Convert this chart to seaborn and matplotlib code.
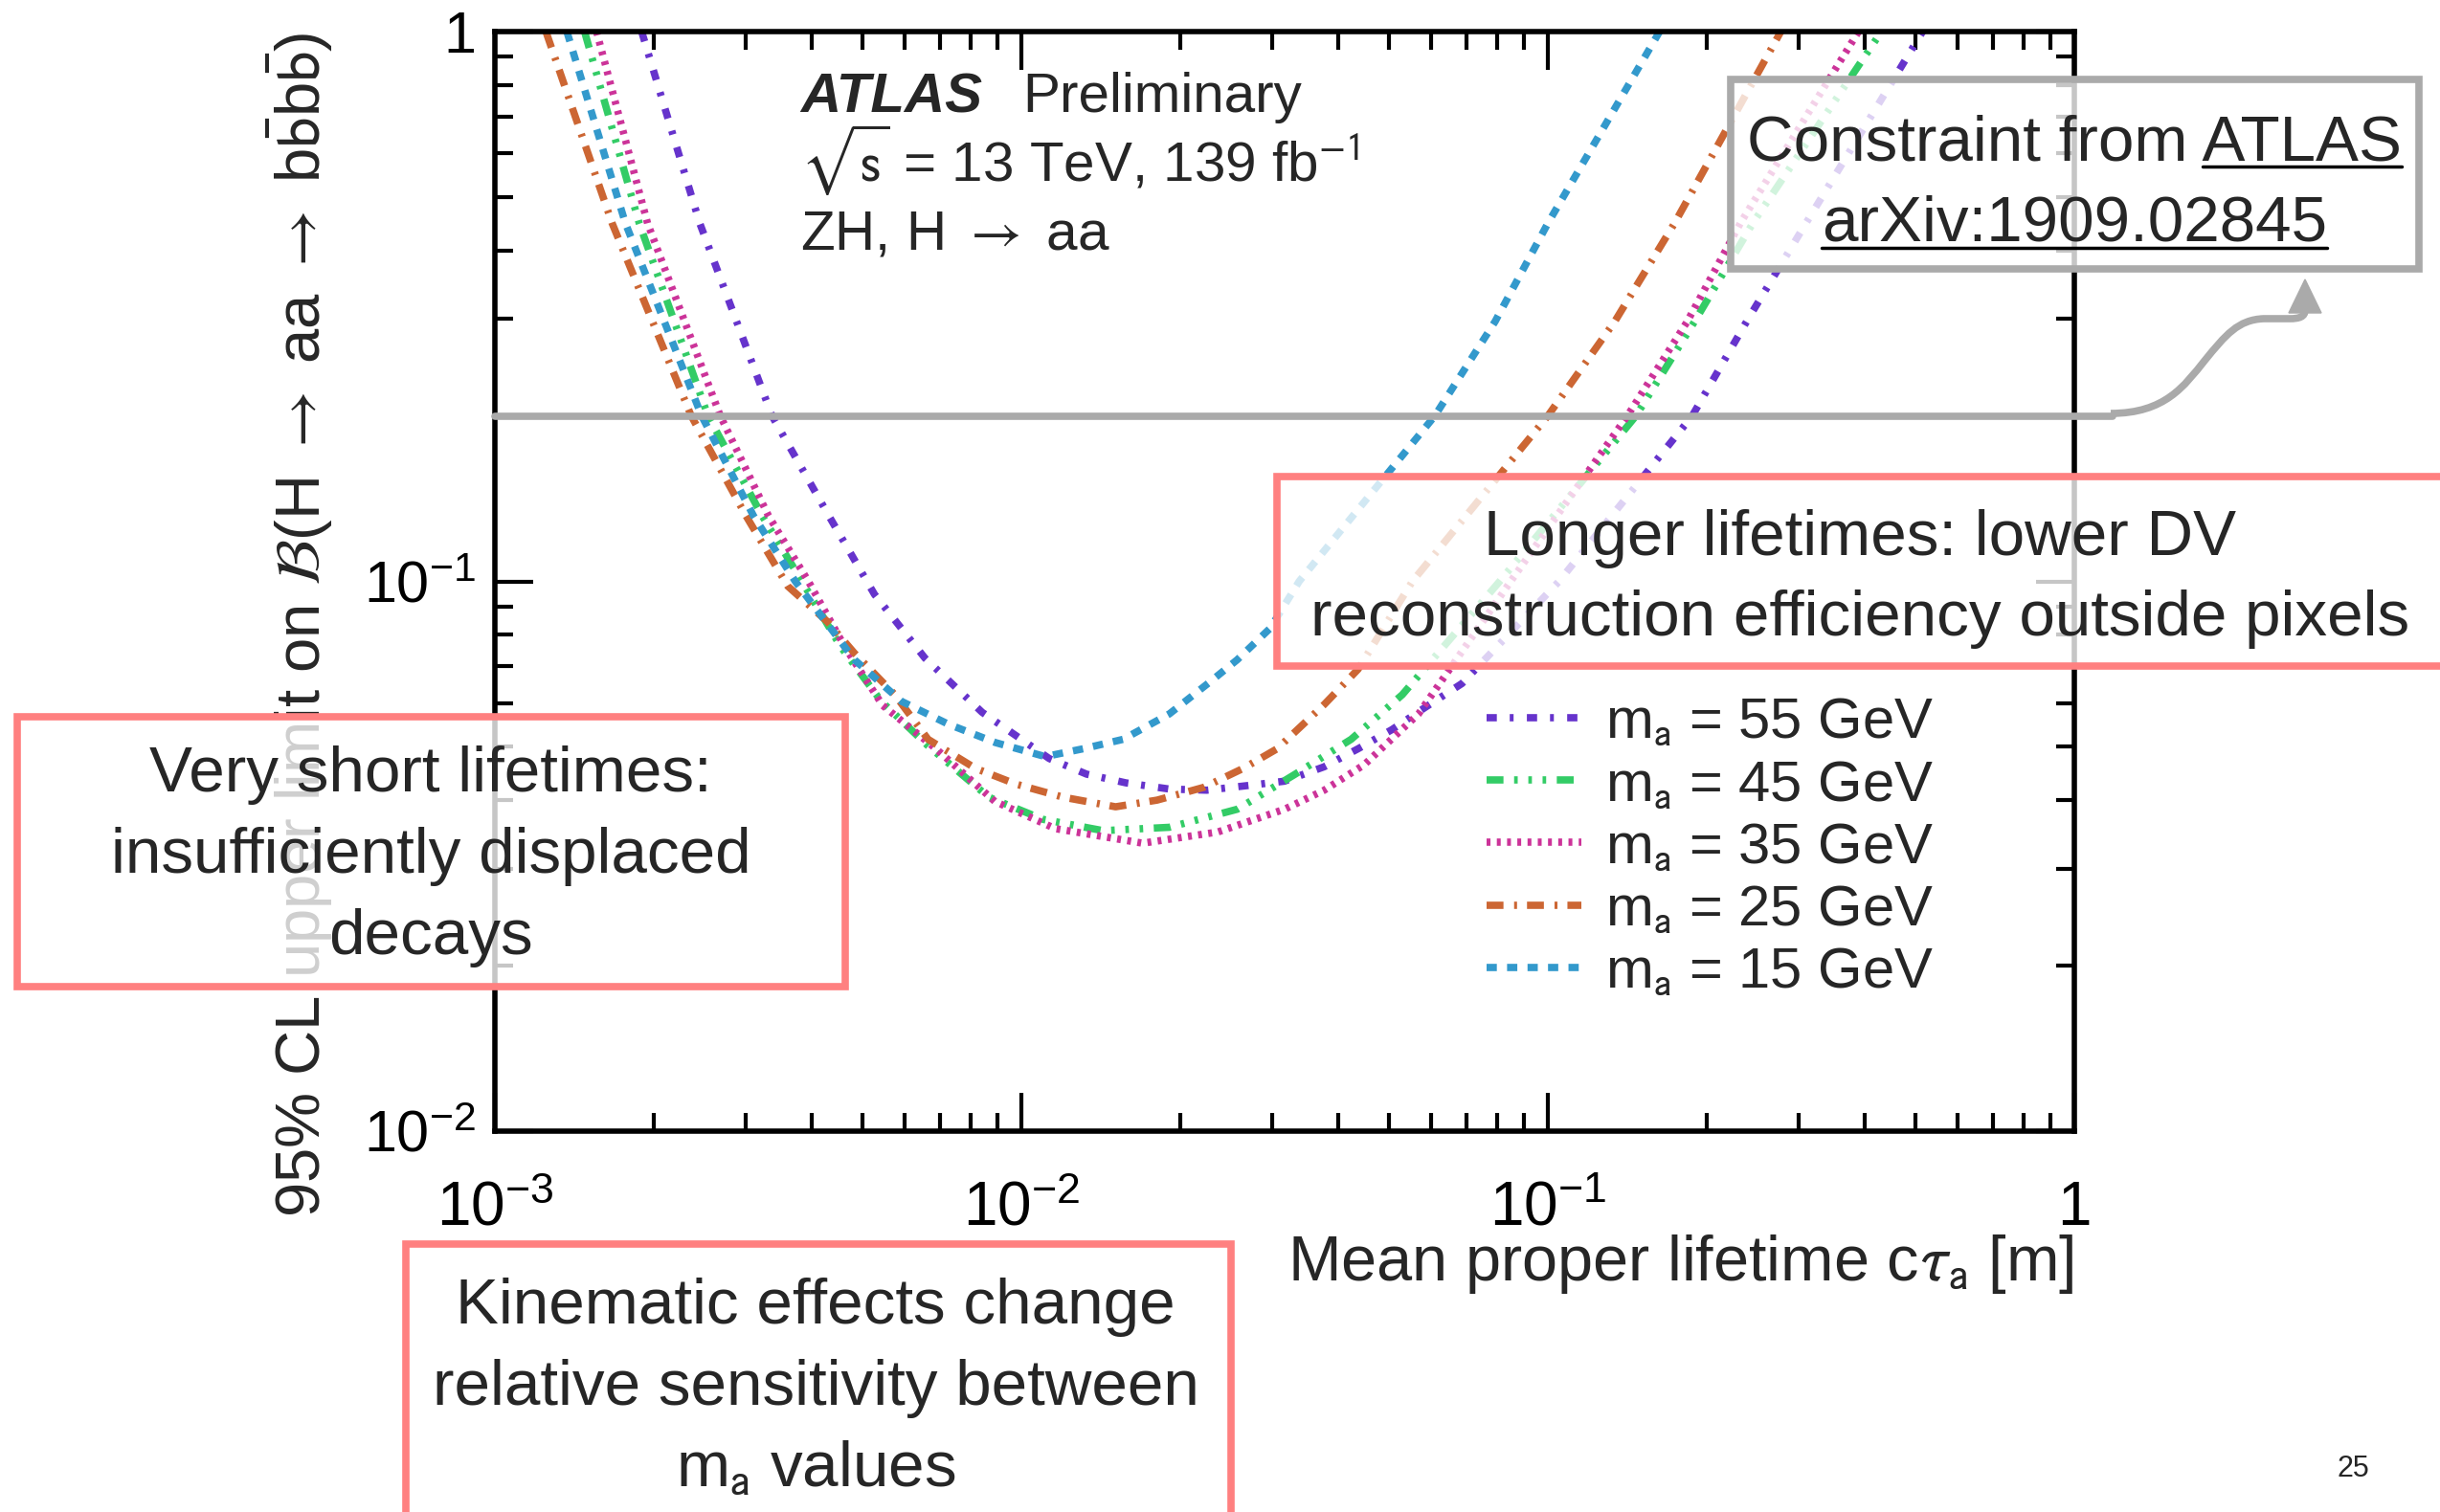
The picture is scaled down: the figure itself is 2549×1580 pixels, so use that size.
import numpy as np
import pandas as pd
import matplotlib
matplotlib.use("Agg")
import matplotlib.pyplot as plt
import seaborn as sns
from matplotlib.lines import Line2D
from matplotlib.patches import Rectangle, PathPatch, Polygon
from matplotlib.path import Path
from matplotlib.ticker import LogLocator, FuncFormatter, NullFormatter

# values (c*tau in m, 95% CL limit on BR)
masses = ["55", "45", "35", "25", "15"]

ctau_55 = [1.90e-3, 2.45e-3, 3.36e-3, 4.31e-3, 5.26e-3, 6.56e-3, 8.42e-3, 1.13e-2,
           1.33e-2, 1.58e-2, 1.91e-2, 2.25e-2, 2.68e-2, 3.16e-2, 3.76e-2, 4.36e-2,
           5.05e-2, 5.85e-2, 6.87e-2, 1.05e-1, 1.88e-1, 2.4e-1, 3.1e-1, 5.15e-1]
lim_55 = [1.0, 0.448, 0.2, 0.1315, 0.0947, 0.0725, 0.0578, 0.0476,
          0.0446, 0.043, 0.0419, 0.0417, 0.0425, 0.0433, 0.046, 0.0496,
          0.0537, 0.059, 0.0652, 0.1, 0.2, 0.3, 0.45, 1.0]

ctau_45 = [1.48e-3, 1.88e-3, 2.54e-3, 3.22e-3, 3.83e-3, 4.54e-3, 5.42e-3, 6.65e-3,
           8.67e-3, 1.1e-2, 1.43e-2, 1.91e-2, 2.57e-2, 3.3e-2, 4.23e-2, 5.29e-2,
           8.1e-2, 1.47e-1, 1.9e-1, 2.45e-1, 4.3e-1]
lim_45 = [1.0, 0.448, 0.2, 0.1315, 0.1, 0.076, 0.0605, 0.0502,
          0.0405, 0.0369, 0.0352, 0.0357, 0.0385, 0.0445, 0.0516, 0.0622,
          0.1, 0.2, 0.297, 0.448, 1.0]

ctau_35 = [1.56e-3, 1.95e-3, 2.68e-3, 3.31e-3, 3.94e-3, 4.62e-3, 5.45e-3, 6.9e-3,
           8.9e-3, 1.16e-2, 1.7e-2, 2.36e-2, 3.16e-2, 3.76e-2, 4.48e-2, 5.68e-2,
           8.5e-2, 1.416e-1, 1.84e-1, 2.32e-1, 3.89e-1]
lim_35 = [1.0, 0.448, 0.2, 0.1315, 0.1, 0.076, 0.0595, 0.0495,
          0.0398, 0.0355, 0.0334, 0.035, 0.0385, 0.0417, 0.0464, 0.0574,
          0.1, 0.2, 0.297, 0.448, 1.0]

ctau_25 = [1.25e-3, 1.67e-3, 2.36e-3, 3.0e-3, 3.6e-3, 4.28e-3, 4.82e-3, 5.75e-3,
           6.65e-3, 8.18e-3, 9.75e-3, 1.2e-2, 1.51e-2, 1.81e-2, 2.22e-2, 2.64e-2,
           3.06e-2, 3.76e-2, 4.36e-2, 5.53e-2, 1.0e-1, 1.34e-1, 1.74e-1, 2.77e-1]
lim_25 = [1.0, 0.448, 0.2, 0.1315, 0.098, 0.0845, 0.074, 0.0622,
          0.0516, 0.0457, 0.0428, 0.0405, 0.0389, 0.04, 0.0422, 0.0457,
          0.0496, 0.0597, 0.0692, 0.1, 0.2, 0.297, 0.448, 1.0]

ctau_15 = [1.37e-3, 1.77e-3, 2.47e-3, 3.1e-3, 3.72e-3, 4.82e-3, 5.92e-3, 7.26e-3,
           8.93e-3, 1.11e-2, 1.31e-2, 1.56e-2, 1.91e-2, 2.28e-2, 2.57e-2, 2.97e-2,
           3.37e-2, 6.1e-2, 7.94e-2, 1.0e-1, 1.63e-1]
lim_15 = [1.0, 0.448, 0.2, 0.1315, 0.1, 0.072, 0.0605, 0.055,
          0.0509, 0.048, 0.0496, 0.0516, 0.0574, 0.0656, 0.072, 0.0822,
          0.1, 0.2, 0.297, 0.448, 1.0]

constraint_limit = 0.2

colors = ["#6633CC", "#33CC66", "#CC3399", "#CC6633", "#3399CC"]
dash_list = [(7.7, 9.7, 2.9, 10), (12.7, 8, 2.7, 8, 2.7, 8, 2.7, 8), (2.9, 4.8),
             (12.7, 8, 2.2, 7.5), (7.7, 7.7)]

sns.set_style("ticks")
plt.rcParams["font.family"] = ["Liberation Sans", "DejaVu Sans"]
plt.rcParams["mathtext.fontset"] = "stixsans"
plt.rcParams["lines.scale_dashes"] = False

W, H = 2549, 1580
fig = plt.figure(figsize=(W / 100, H / 100), dpi=100)


def fx(px):
    return px / W


def fy(py):
    return 1 - py / H


ax = fig.add_axes([fx(517), fy(1182), (2167 - 517) / W, (1182 - 33) / H])

frames = []
for m, xs, ys in zip(masses, [ctau_55, ctau_45, ctau_35, ctau_25, ctau_15],
                     [lim_55, lim_45, lim_35, lim_25, lim_15]):
    frames.append(pd.DataFrame({"ctau": xs, "limit": ys, "mass": m}))
df = pd.concat(frames, ignore_index=True)

palette = dict(zip(masses, colors))
dash_map = dict(zip(masses, dash_list))
line_w = 5.5

sns.lineplot(data=df, x="ctau", y="limit", hue="mass", style="mass",
             hue_order=masses, style_order=masses, palette=palette,
             dashes=dash_map, estimator=None, sort=True, linewidth=line_w,
             legend=False, ax=ax)

ax.set_xscale("log")
ax.set_yscale("log")
ax.set_xlim(1e-3, 1)
ax.set_ylim(1e-2, 1)

for s in ax.spines.values():
    s.set_linewidth(4)
    s.set_color("black")
ax.tick_params(which="both", direction="in", top=True, right=True, colors="black")
ax.tick_params(which="major", length=29, width=3)
ax.tick_params(which="minor", length=14, width=3)
ax.tick_params(axis="x", which="major", pad=37, labelsize=46)
ax.tick_params(axis="y", which="major", pad=14, labelsize=44)

fmt = FuncFormatter(lambda v, p: "1" if abs(v - 1) < 1e-9
                    else r"$\mathdefault{10^{%d}}$" % round(np.log10(v)))
for axis in (ax.xaxis, ax.yaxis):
    axis.set_major_locator(LogLocator(base=10, numticks=10))
    axis.set_minor_locator(LogLocator(base=10, subs=np.arange(2, 10), numticks=10))
    axis.set_major_formatter(fmt)
    axis.set_minor_formatter(NullFormatter())

ax.set_xlabel(r"Mean proper lifetime c$\tau_{\mathrm{a}}$ [m]", fontsize=48,
              ha="right", va="top")
ax.xaxis.set_label_coords(1.0, -0.092)
ax.set_ylabel(r"95% CL upper limit on $\mathcal{B}$(H $\rightarrow$ aa $\rightarrow$ "
              r"b$\bar{\mathrm{b}}$b$\bar{\mathrm{b}}$)", fontsize=47, ha="right")
ax.yaxis.set_label_coords(-0.101, 1.0)

# ATLAS label
fig.text(fx(836), fy(117), "ATLAS", fontsize=42, fontweight="bold",
         style="italic", va="baseline")
fig.text(fx(1068), fy(117), "Preliminary", fontsize=42, va="baseline")
fig.text(fx(836), fy(189), r"$\sqrt{\mathrm{s}}$ = 13 TeV, 139 fb$^{\mathrm{-1}}$",
         fontsize=42, va="baseline")
fig.text(fx(836), fy(260), r"ZH, H $\rightarrow$ aa", fontsize=42, va="baseline")

# legend
handles = [Line2D([], [], color=palette[m], lw=line_w, dashes=dash_map[m]) for m in masses]
labels = [r"m$_{\mathrm{a}}$ = %s GeV" % m for m in masses]
ax.legend(handles, labels, loc="upper left", bbox_to_anchor=(fx(1553), fy(728)),
          bbox_transform=fig.transFigure, frameon=False, fontsize=43,
          handlelength=1.65, handletextpad=0.42, labelspacing=0.17,
          borderpad=0, borderaxespad=0)

# constraint line and connector arrow
grey = "#AAAAAA"
ax.axhline(constraint_limit, xmin=0, xmax=(2207 - 517) / 1650, color=grey,
           lw=5.5, clip_on=False, zorder=3)
verts = [(2205, 432), (2262, 432), (2282, 403), (2303, 377),
         (2325, 350), (2338, 334), (2365, 333), (2392, 333),
         (2402, 333), (2408, 331), (2408, 324)]
codes = [Path.MOVETO, Path.CURVE4, Path.CURVE4, Path.CURVE4,
         Path.CURVE4, Path.CURVE4, Path.CURVE4, Path.LINETO,
         Path.CURVE4, Path.CURVE4, Path.CURVE4]
conn = Path([(fx(x), fy(y)) for x, y in verts], codes)
fig.add_artist(PathPatch(conn, fill=False, edgecolor=grey, lw=5.5,
                         transform=fig.transFigure, zorder=3))
fig.add_artist(Polygon([(fx(2391), fy(327)), (fx(2425), fy(327)), (fx(2408), fy(292))],
                       closed=True, color=grey, transform=fig.transFigure, zorder=3))


def note_box(x0, y0, x1, y1, edge):
    fig.add_artist(Rectangle((fx(x0), fy(y1)), (x1 - x0) / W, (y1 - y0) / H,
                             facecolor=(1, 1, 1, 0.78), edgecolor=edge, lw=5.5,
                             transform=fig.transFigure, zorder=5))


salmon = "#FF8080"
note_box(1334, 498, 2620, 696, salmon)
note_box(18, 749, 883, 1031, salmon)
note_box(424, 1300, 1286, 1660, salmon)
note_box(1808, 83, 2527, 281, grey)

box_font = 48.5
fig.text(fx(1943), fy(605), "Longer lifetimes: lower DV\nreconstruction efficiency outside pixels",
         fontsize=box_font, ha="center", va="center", multialignment="center",
         linespacing=1.47, zorder=6)
fig.text(fx(450), fy(895), "Very short lifetimes:\ninsufficiently displaced\ndecays",
         fontsize=box_font, ha="center", va="center", multialignment="center",
         linespacing=1.47, zorder=6)
fig.text(fx(852), fy(1451), "Kinematic effects change\nrelative sensitivity between\n"
         r"m$_{\mathrm{a}}$ values", fontsize=box_font, ha="center", va="center",
         multialignment="center", linespacing=1.47, zorder=6)
t1 = fig.text(fx(2167), fy(167), "Constraint from ATLAS", fontsize=box_font,
              ha="center", va="baseline", zorder=6)
t2 = fig.text(fx(2167), fy(252), "arXiv:1909.02845", fontsize=box_font,
              ha="center", va="baseline", zorder=6)

fig.text(fx(2458), fy(1535), "25", fontsize=22, ha="center", va="center")

# underline the reference
fig.canvas.draw()
r = fig.canvas.get_renderer()
tmp = fig.text(0, 0, "ATLAS", fontsize=box_font)
w_atlas = tmp.get_window_extent(r).width
tmp.remove()
b1 = t1.get_window_extent(r)
b2 = t2.get_window_extent(r)
fig.add_artist(Line2D([(b1.x1 - w_atlas) / W, b1.x1 / W], [fy(174)] * 2,
                      color="black", lw=2.5, transform=fig.transFigure, zorder=6))
fig.add_artist(Line2D([b2.x0 / W, b2.x1 / W], [fy(259)] * 2,
                      color="black", lw=2.5, transform=fig.transFigure, zorder=6))

fig.savefig("out.png", dpi=100)
